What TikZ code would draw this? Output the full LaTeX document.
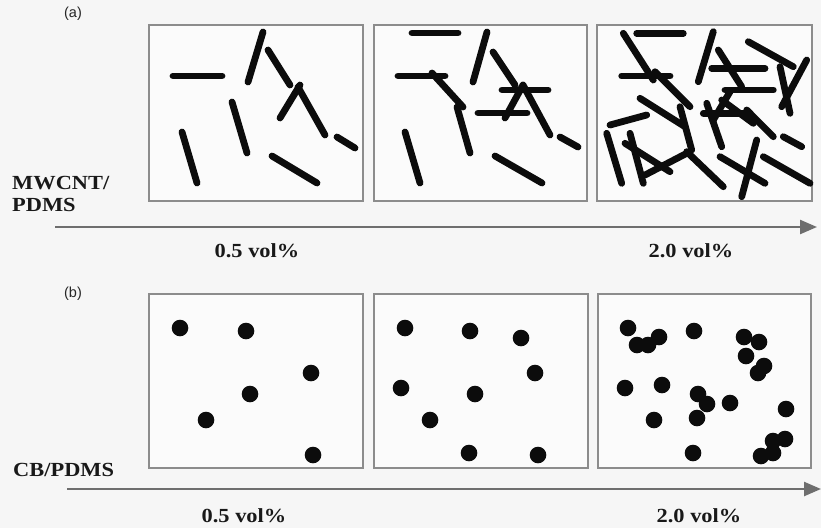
\documentclass[tikz,border=0pt]{standalone}
\usepackage{fontspec}
\setmainfont{Liberation Serif}
\newfontfamily\labfont{Liberation Sans}
\usetikzlibrary{arrows.meta}
\definecolor{bgc}{HTML}{F6F6F6}
\definecolor{boxc}{HTML}{8C8C8C}
\definecolor{axc}{HTML}{6E6E6E}
\definecolor{rodc}{HTML}{0C0C0C}
\tikzset{
  panel/.style={draw=boxc, line width=1.6pt, fill=white!60!bgc},
  rod/.style={draw=rodc, line width=6.8pt, line cap=round},
  dot/.style={fill=rodc},
  axis/.style={draw=axc, line width=2.4pt, -{Triangle[length=17pt,width=14pt]}},
  tag/.style={font=\labfont\fontsize{14.5}{16}\selectfont, text=black!85, inner sep=0pt},
  matlab/.style={font=\bfseries\fontsize{20}{22}\selectfont, text=black!90, inner sep=0pt, anchor=west, xscale=1.12},
  vol/.style={font=\bfseries\fontsize{20}{22}\selectfont, text=black!90, inner sep=0pt, xscale=1.12},
}
\begin{document}
\begin{tikzpicture}[x=1pt,y=-1pt]
\fill[bgc] (0,0) rectangle (821,528);
\useasboundingbox (0,0) rectangle (821,528);

% panels (a)
\draw[panel] (149,25) rectangle (363,201);
\draw[panel] (374,25) rectangle (587,201);
\draw[panel] (597,25) rectangle (812,201);
% panels (b)
\draw[panel] (149,294) rectangle (363,468);
\draw[panel] (374,294) rectangle (588,468);
\draw[panel] (598,294) rectangle (811,468);

% rods box 1
\begin{scope}
\draw[rod] (173,76)--(222,76);
\draw[rod] (263,32)--(248,82);
\draw[rod] (268,50)--(290,85);
\draw[rod] (300,85)--(280,118);
\draw[rod] (298,87)--(325,135);
\draw[rod] (337,137)--(355,148);
\draw[rod] (232,102)--(247,153);
\draw[rod] (182,132)--(197,183);
\draw[rod] (272,156)--(317,183);
\end{scope}

% rods box 2
\begin{scope}
\draw[rod] (412,33)--(458,33);
\draw[rod] (487,32)--(473,82);
\draw[rod] (493,52)--(515,85);
\draw[rod] (398,76)--(445,76);
\draw[rod] (432,73)--(463,107);
\draw[rod] (457,107)--(470,153);
\draw[rod] (502,90)--(548,90);
\draw[rod] (523,85)--(505,118);
\draw[rod] (523,85)--(550,135);
\draw[rod] (478,113)--(527,113);
\draw[rod] (560,137)--(578,147);
\draw[rod] (405,132)--(420,183);
\draw[rod] (495,156)--(542,183);
\end{scope}

% rods box 3
\begin{scope}
\draw[rod] (636.7,33.3)--(683.3,33.3);
\draw[rod] (623.3,33.3)--(653.3,80);
\draw[rod] (621.7,76)--(670,76);
\draw[rod] (655,71.7)--(690,106.7);
\draw[rod] (713.3,31.7)--(698.3,81.7);
\draw[rod] (718.3,50)--(741.7,86.7);
\draw[rod] (711.7,68.3)--(765,68.3);
\draw[rod] (725,90)--(773.3,90);
\draw[rod] (748.3,41.7)--(793.3,66.7);
\draw[rod] (806.7,60)--(781.7,106.7);
\draw[rod] (780,66.7)--(790,113.3);
\draw[rod] (640,98.3)--(685,126.7);
\draw[rod] (610,125)--(646.7,115);
\draw[rod] (606.7,133.3)--(621.7,183.3);
\draw[rod] (630,133.3)--(643.3,183.3);
\draw[rod] (625,143.3)--(670,171.7);
\draw[rod] (645,175)--(686.7,153.3);
\draw[rod] (686.7,151.7)--(723.3,186.7);
\draw[rod] (680,106.7)--(691.7,150);
\draw[rod] (703.3,113.3)--(750,113.3);
\draw[rod] (730,91.7)--(713.3,120);
\draw[rod] (706.7,103.3)--(721.7,146.7);
\draw[rod] (721.7,100)--(753.3,123.3);
\draw[rod] (746.7,110)--(773.3,136.7);
\draw[rod] (720,156.7)--(765,183.3);
\draw[rod] (756.7,140)--(741.7,196.7);
\draw[rod] (763.3,156.7)--(810,183.3);
\draw[rod] (783.3,136.7)--(801.7,146.7);
\end{scope}

% dots box 1
\foreach \x/\y in {180/328, 246/331, 311/373, 250/394, 206/420, 313/455}
  \fill[dot] (\x,\y) circle (8.3);
% dots box 2
\foreach \x/\y in {405/328, 470/331, 521/338, 535/373, 401/388, 475/394, 430/420, 469/453, 538/455}
  \fill[dot] (\x,\y) circle (8.3);
% dots box 3
\foreach \x/\y in {628/328, 637/345, 659/337, 648/345, 694/331, 744/337, 759/342, 746/356, 758/373, 764/366,
  625/388, 662/385, 698/394, 707/404, 697/418, 730/403, 654/420, 786/409, 785/439, 773/453, 761/456, 773/441, 693/453}
  \fill[dot] (\x,\y) circle (8.3);

% axes
\coordinate (a0) at (55,227);
\coordinate (a1) at (817,227);
\draw[axis] (a0) -- (a1);
\coordinate (b0) at (67,489);
\coordinate (b1) at (821,489);
\draw[axis] (b0) -- (b1);

% labels
\node[tag] (ta) at (73,14) {(a)};
\node[tag] (tb) at (73,294) {(b)};
\node[matlab] (m1) at (12,183) {MWCNT/};
\node[matlab] (m2) at (12,205) {PDMS};
\node[matlab] (m3) at (13,470) {CB/PDMS};
\node[vol] (v1) at (257,251) {0.5 vol\%};
\node[vol] (v2) at (691,251) {2.0 vol\%};
\node[vol] (v3) at (244,516) {0.5 vol\%};
\node[vol] (v4) at (699,516) {2.0 vol\%};
\end{tikzpicture}
\end{document}
